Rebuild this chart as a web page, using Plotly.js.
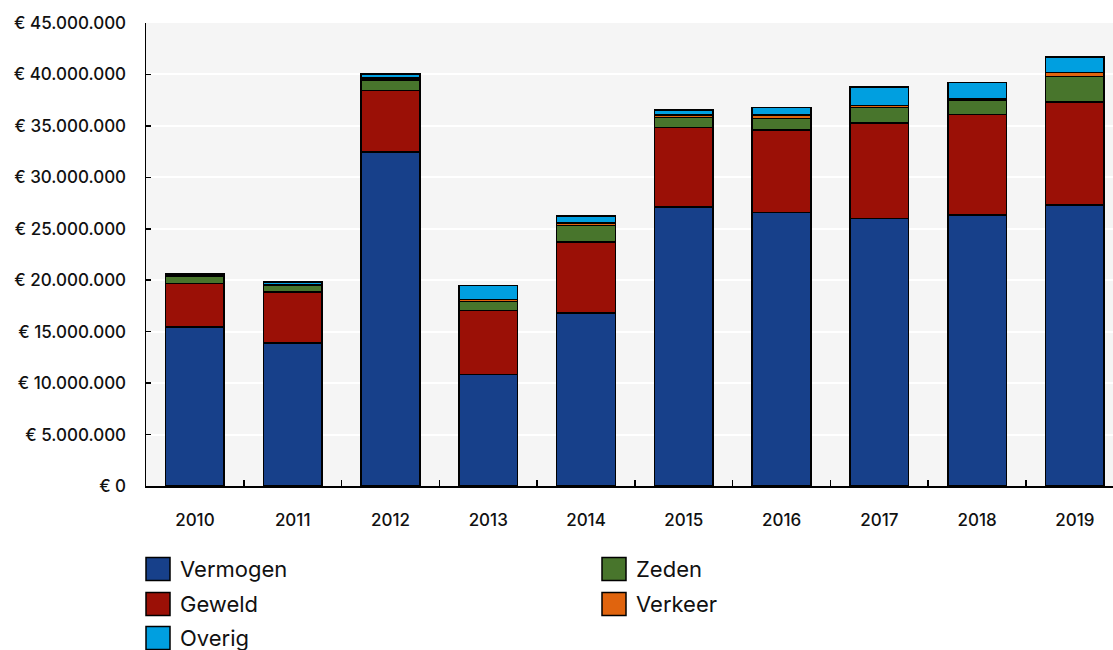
<!DOCTYPE html>
<html>
<head>
<meta charset="utf-8">
<script src="https://cdn.plot.ly/plotly-3.0.1.min.js"></script>
<style>html,body{margin:0;padding:0;background:#fff;}#chart{width:1113px;height:650px;}</style>
</head>
<body>
<div id="chart"></div>
<script>
const years = ['2010','2011','2012','2013','2014','2015','2016','2017','2018','2019'];
const vermogen = [15480000, 13900000, 32490000, 10850000, 16810000, 27140000, 26600000, 26010000, 26340000, 27310000];
const geweld   = [4220000, 4950000, 5960000, 6190000, 6900000, 7720000, 8000000, 9300000, 9780000, 10010000];
const zeden    = [710000, 650000, 1010000, 910000, 1620000, 970000, 1130000, 1490000, 1390000, 2500000];
const verkeer  = [100000, 100000, 200000, 170000, 220000, 200000, 300000, 190000, 170000, 360000];
const overig   = [140000, 230000, 380000, 1380000, 700000, 500000, 770000, 1800000, 1550000, 1540000];
const seriesNames = ['Vermogen','Geweld','Zeden','Verkeer','Overig'];
const seriesColors = ['#17408a','#9b1006','#48752c','#e0640e','#009fe0'];
const yTickVals = [0,5000000,10000000,15000000,20000000,25000000,30000000,35000000,40000000,45000000];
const yTickText = ['€ 0','€ 5.000.000','€ 10.000.000','€ 15.000.000','€ 20.000.000','€ 25.000.000','€ 30.000.000','€ 35.000.000','€ 40.000.000','€ 45.000.000'];

const seriesData = [vermogen, geweld, zeden, verkeer, overig];
const traces = seriesData.map((vals, i) => ({
  type: 'bar',
  name: seriesNames[i],
  x: years,
  y: vals,
  marker: {color: seriesColors[i], line: {color: '#000', width: 1.6}},
  showlegend: false,
  hoverinfo: 'x+y+name'
}));

// legend drawn with shapes + annotations (two columns)
const L = 146, T = 23, W = 967, H = 463;
const px2x = p => (p - L) / W;
const py2y = p => (T + H - p) / H;
const legendOrder = [0, 1, 4, 2, 3];      // Vermogen, Geweld, Overig | Zeden, Verkeer
const legendCols = [146, 146, 146, 602, 602];
const legendRows = [569, 604, 638, 569, 604];
const shapes = [];
const annotations = [];
legendOrder.forEach((si, k) => {
  const cx = legendCols[k], cy = legendRows[k];
  shapes.push({type: 'rect', xref: 'paper', yref: 'paper',
    x0: px2x(cx), x1: px2x(cx + 24), y0: py2y(cy + 11.5), y1: py2y(cy - 11.5),
    fillcolor: seriesColors[si], line: {color: '#000', width: 1.5}});
  annotations.push({xref: 'paper', yref: 'paper', x: px2x(cx + 32), y: py2y(cy),
    xanchor: 'left', yanchor: 'middle', showarrow: false, text: seriesNames[si],
    font: {family: 'Inter, Roboto, sans-serif', size: 22, color: '#111'}});
});

const layout = {
  width: 1113, height: 650,
  margin: {l: 146, r: 0, t: 23, b: 164},
  paper_bgcolor: '#ffffff',
  plot_bgcolor: '#f5f5f5',
  barmode: 'stack',
  bargap: 0.4,
  showlegend: false,
  font: {family: 'Inter, Roboto, sans-serif', color: '#111'},
  xaxis: {
    type: 'category',
    range: [-0.5, 9.39],
    tickson: 'boundaries',
    ticks: 'inside', ticklen: 6, tickwidth: 1.5, tickcolor: '#000',
    showline: true, linecolor: '#000', linewidth: 2,
    showgrid: false, zeroline: false,
    ticklabelstandoff: 18,
    tickfont: {family: 'Inter, Roboto, sans-serif', size: 17, weight: 500, color: '#111'}
  },
  yaxis: {
    range: [0, 45000000],
    tickvals: yTickVals, ticktext: yTickText,
    ticks: 'inside', ticklen: 5, tickwidth: 1.5, tickcolor: '#000',
    showline: true, linecolor: '#000', linewidth: 1.5,
    showgrid: true, gridcolor: '#ffffff', gridwidth: 2,
    zeroline: false,
    ticklabelstandoff: 15,
    tickfont: {family: 'Inter, Roboto, sans-serif', size: 17, weight: 500, color: '#111'}
  },
  shapes: shapes,
  annotations: annotations
};

Plotly.newPlot('chart', traces, layout, {displayModeBar: false, staticPlot: true});
</script>
</body>
</html>
